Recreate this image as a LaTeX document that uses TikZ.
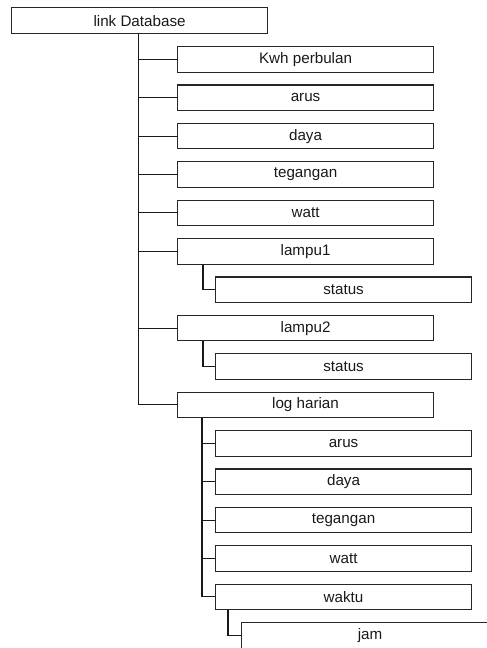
\documentclass[tikz,border=0pt]{standalone}
\usepackage{fontspec}
\setmainfont{Liberation Sans}
\begin{document}
\begin{tikzpicture}[x=1pt,y=-1pt,
  box/.style={draw=black!85,line width=1.1pt,rectangle,anchor=north west,
    minimum width=256pt,minimum height=25.5pt,inner sep=0pt,
    font=\fontsize{15.2}{17}\selectfont,text=black!90},
  conn/.style={draw=black!90,line width=1.1pt}]
\useasboundingbox (0,0) rectangle (487,648);
\clip (0,0) rectangle (487,648);
% root
\node[box,minimum height=26pt] (link) at (11,7.3) {link Database};
% level 1
\node[box] (kwh)  at (177,46.0)  {Kwh perbulan};
\node[box] (arus) at (177,84.4)  {arus};
\node[box] (daya) at (177,122.8) {daya};
\node[box] (teg)  at (177,161.2) {tegangan};
\node[box] (watt) at (177,199.6) {watt};
\node[box] (l1)   at (177,238.0) {lampu1};
\node[box] (s1)   at (215,276.4) {status};
\node[box] (l2)   at (177,314.8) {lampu2};
\node[box] (s2)   at (215,353.2) {status};
\node[box] (log)  at (177,391.6) {log harian};
% log harian children
\node[box] (harus) at (215,430.0) {arus};
\node[box] (hdaya) at (215,468.4) {daya};
\node[box] (hteg)  at (215,506.8) {tegangan};
\node[box] (hwatt) at (215,545.2) {watt};
\node[box] (hwak)  at (215,583.6) {waktu};
\node[box,minimum width=257pt] (jam) at (241,622.0) {jam};
% connectors
\coordinate (t0) at ([xshift=-1pt]link.south);
\draw[conn] (t0) |- (log.west);
\foreach \n in {kwh,arus,daya,teg,watt,l1,l2}
  \draw[conn] (\n.west) -- (\n.west -| t0);
\coordinate (t1) at (l1.south -| 203,0);
\draw[conn] (t1) |- (s1.west);
\coordinate (t2) at (l2.south -| 203,0);
\draw[conn] (t2) |- (s2.west);
\coordinate (t3) at (log.south -| 202,0);
\draw[conn] (t3) |- (hwak.west);
\foreach \n in {harus,hdaya,hteg,hwatt}
  \draw[conn] (\n.west) -- (\n.west -| t3);
\coordinate (t4) at (hwak.south -| 228,0);
\draw[conn] (t4) |- (jam.west);
\end{tikzpicture}
\end{document}
